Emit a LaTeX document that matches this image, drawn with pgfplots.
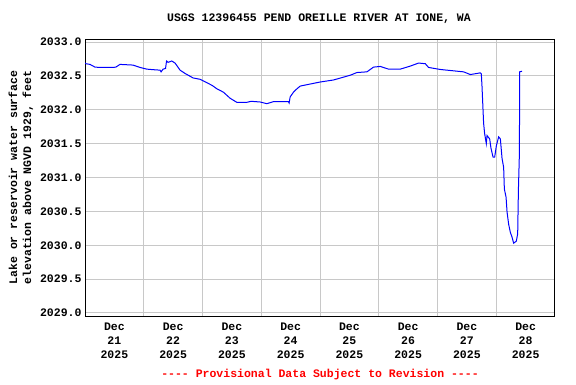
\documentclass[border=0pt]{standalone}
\usepackage{pgfplots}
\pgfplotsset{compat=1.18}
\usepackage{fontspec}
\setmainfont{Liberation Mono}
\setmonofont{Liberation Mono}
\definecolor{gridgray}{RGB}{200,200,200}
\begin{document}
\begin{tikzpicture}[x=1pt,y=1pt]
\useasboundingbox (0,0) rectangle (576,384);
\begin{axis}[
  anchor=south west, at={(85pt,68pt)},
  scale only axis, width=470pt, height=277pt,
  xmin=0, xmax=8, ymin=2028.955, ymax=2033.045,
  xtick={0.5,1.5,...,7.5},
  xticklabels={{Dec\\21\\2025},{Dec\\22\\2025},{Dec\\23\\2025},{Dec\\24\\2025},{Dec\\25\\2025},{Dec\\26\\2025},{Dec\\27\\2025},{Dec\\28\\2025}},
  minor xtick={1,2,...,7},
  ytick={2029,2029.5,...,2033},
  ymajorgrids, xminorgrids,
  grid style={gridgray, line width=1pt},
  minor grid style={gridgray, line width=1pt},
  major tick length=0pt, minor tick length=0pt,
  axis line style={black, line width=1pt},
  tick label style={font=\fontsize{11.5}{14}\selectfont\bfseries},
  xticklabel style={align=center, yshift=-3pt},
  yticklabel style={/pgf/number format/.cd, fixed, fixed zerofill, precision=1, 1000 sep={}, assume math mode=true},
  ylabel={Lake or reservoir water surface\\elevation above NGVD 1929, feet},
  ylabel style={align=center, font=\fontsize{11.5}{14}\selectfont\bfseries},
]
\addplot[blue, line width=1pt] coordinates {
(0.000,2032.69)(0.017,2032.68)(0.085,2032.67)(0.170,2032.63)(0.256,2032.625)(0.477,2032.625)(0.525,2032.63)
(0.596,2032.67)(0.818,2032.66)(0.937,2032.625)(1.051,2032.60)(1.193,2032.59)(1.278,2032.585)
(1.295,2032.56)(1.329,2032.60)(1.371,2032.61)(1.388,2032.72)(1.414,2032.70)(1.477,2032.72)
(1.533,2032.69)(1.618,2032.585)(1.704,2032.536)(1.840,2032.47)(1.959,2032.45)(2.073,2032.40)
(2.164,2032.36)(2.244,2032.31)(2.356,2032.26)(2.470,2032.17)(2.584,2032.11)(2.755,2032.11)
(2.828,2032.125)(2.981,2032.115)(3.095,2032.09)(3.208,2032.12)(3.463,2032.12)(3.475,2032.10)
(3.492,2032.19)(3.549,2032.26)(3.595,2032.30)(3.663,2032.35)(3.889,2032.39)(4.003,2032.41)
(4.230,2032.44)(4.514,2032.51)(4.629,2032.55)(4.799,2032.56)(4.911,2032.63)(5.026,2032.64)
(5.167,2032.60)(5.366,2032.60)(5.537,2032.645)(5.678,2032.69)(5.792,2032.68)(5.848,2032.625)
(6.048,2032.595)(6.274,2032.575)(6.445,2032.56)(6.559,2032.52)(6.729,2032.545)(6.746,2032.53)
(6.758,2032.34)(6.785,2031.80)(6.802,2031.65)(6.831,2031.50)(6.843,2031.62)(6.888,2031.57)
(6.911,2031.43)(6.946,2031.30)(6.973,2031.30)(7.002,2031.47)(7.041,2031.60)(7.070,2031.57)
(7.099,2031.28)(7.126,2031.15)(7.138,2030.83)(7.167,2030.71)(7.184,2030.49)(7.211,2030.31)
(7.240,2030.19)(7.269,2030.12)(7.296,2030.03)(7.342,2030.06)(7.365,2030.17)(7.377,2030.81)
(7.394,2031.35)(7.399,2032.56)(7.440,2032.57)
};
\end{axis}
\node[font=\fontsize{11.5}{14}\selectfont\bfseries] at (319,365) {USGS 12396455 PEND OREILLE RIVER AT IONE, WA};
\node[font=\fontsize{11.5}{14}\selectfont\bfseries, text=red] at (320,9) {{-}{-}{-}{-} Provisional Data Subject to Revision {-}{-}{-}{-}};
\end{tikzpicture}
\end{document}
